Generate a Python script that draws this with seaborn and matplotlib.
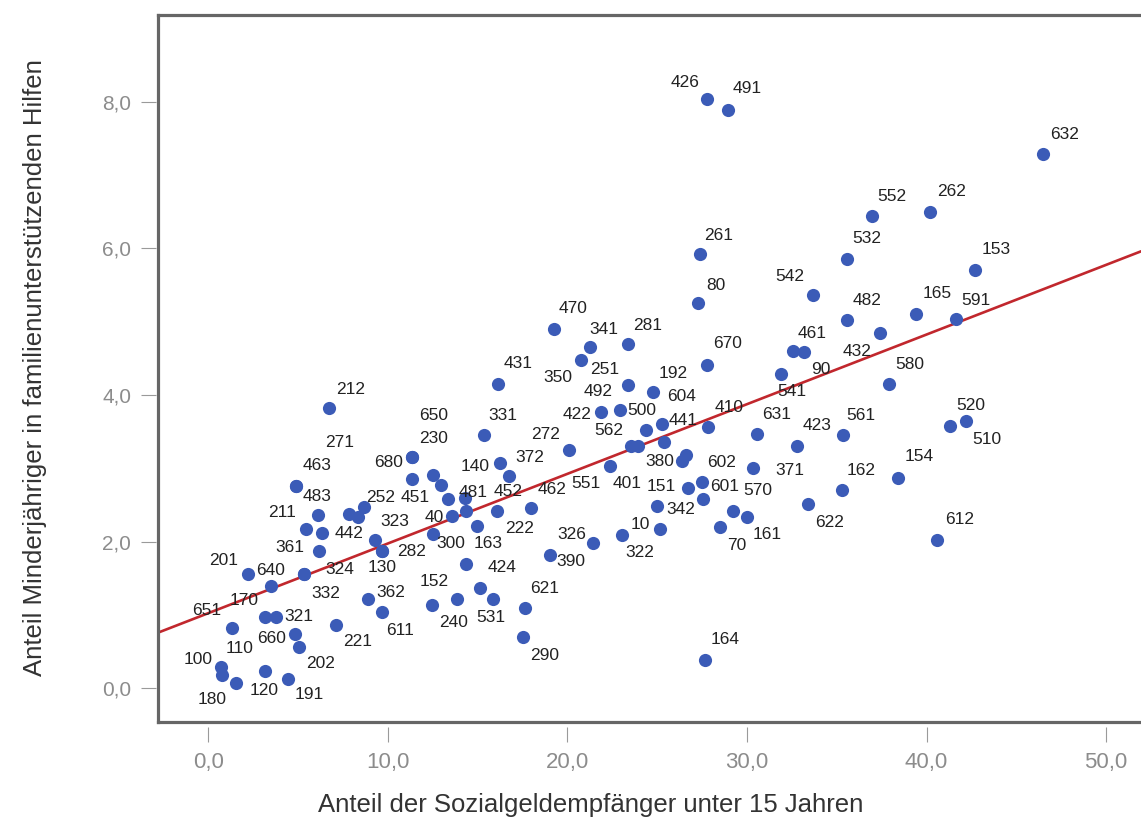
import matplotlib
matplotlib.use("Agg")
import matplotlib.pyplot as plt
from matplotlib.lines import Line2D
import numpy as np
import pandas as pd
import seaborn as sns

# District numbers (empty string = point drawn without a label)
district = [
    "426", "491", "632", "552", "262", "261", "532", "153", "80", "542",
    "482", "165", "591", "432", "461", "90", "541", "580", "281", "670",
    "192", "251", "470", "341", "350", "431", "422", "492", "500", "604",
    "562", "401", "441", "410", "631", "423", "561", "380", "", "371",
    "602", "601", "151", "342", "570", "161", "70", "10", "322", "622",
    "162", "164", "520", "510", "154", "612", "331", "272", "230", "650",
    "680", "140", "372", "452", "551", "451", "40", "481", "", "",
    "", "222", "462", "300", "163", "326", "390", "424", "152", "240",
    "531", "621", "290", "212", "463", "271", "483", "211", "442", "361",
    "", "252", "", "323", "282", "130", "324", "332", "362", "611",
    "221", "201", "640", "651", "170", "321", "660", "202", "100", "110",
    "180", "120", "191",
]

# Anteil der Sozialgeldempfaenger unter 15 Jahren (%)
sozialgeld = [
    27.79, 28.96, 46.50, 36.98, 40.19, 27.38, 35.58, 42.71, 27.29, 33.69,
    35.58, 39.41, 41.64, 37.41, 32.54, 33.17, 31.88, 37.91, 23.39, 27.79,
    24.78, 23.39, 19.25, 21.26, 20.76, 16.15, 21.87, 22.93, 24.38, 25.28,
    23.54, 23.93, 25.38, 27.85, 30.57, 32.77, 35.36, 26.36, 26.60, 30.35,
    27.48, 27.57, 26.70, 24.97, 29.20, 29.98, 28.50, 25.16, 23.02, 33.38,
    35.31, 27.66, 41.30, 42.19, 38.39, 40.60, 15.36, 20.11, 11.33, 11.33,
    11.33, 12.53, 16.25, 16.77, 22.37, 12.95, 13.37, 14.35, 14.30, 13.56,
    14.35, 16.06, 17.96, 12.53, 14.95, 19.03, 21.44, 15.13, 13.84, 12.44,
    15.87, 17.64, 17.54, 6.73, 4.91, 4.91, 6.11, 5.43, 6.34, 6.15,
    7.82, 8.34, 8.66, 9.27, 9.68, 9.68, 5.33, 5.33, 8.90, 9.66,
    7.13, 2.22, 3.51, 1.33, 3.18, 3.79, 4.82, 5.06, 0.73, 0.77,
    1.53, 3.15, 4.44,
]

# Anteil Minderjaehriger in familienunterstuetzenden Hilfen (%)
hilfen = [
    8.03, 7.89, 7.29, 6.44, 6.50, 5.92, 5.86, 5.70, 5.25, 5.37,
    5.02, 5.11, 5.03, 4.84, 4.60, 4.58, 4.28, 4.15, 4.69, 4.41,
    4.04, 4.14, 4.90, 4.65, 4.48, 4.15, 3.77, 3.79, 3.53, 3.61,
    3.31, 3.31, 3.36, 3.56, 3.47, 3.31, 3.45, 3.10, 3.18, 3.00,
    2.82, 2.58, 2.73, 2.49, 2.42, 2.34, 2.20, 2.18, 2.09, 2.51,
    2.70, 0.39, 3.58, 3.64, 2.87, 2.02, 3.45, 3.25, 3.15, 3.15,
    2.86, 2.91, 3.07, 2.89, 3.03, 2.78, 2.58, 2.42, 2.59, 2.35,
    1.69, 2.42, 2.46, 2.11, 2.22, 1.82, 1.98, 1.37, 1.22, 1.14,
    1.22, 1.10, 0.70, 3.82, 2.76, 2.76, 2.37, 2.18, 2.12, 1.88,
    2.38, 2.34, 2.47, 2.03, 1.88, 1.88, 1.56, 1.56, 1.22, 1.04,
    0.87, 1.56, 1.39, 0.83, 0.97, 0.98, 0.74, 0.57, 0.29, 0.18,
    0.08, 0.24, 0.13,
]

x_ticks = [0, 10, 20, 30, 40, 50]
x_tick_labels = ["0,0", "10,0", "20,0", "30,0", "40,0", "50,0"]
y_ticks = [0, 2, 4, 6, 8]
y_tick_labels = ["0,0", "2,0", "4,0", "6,0", "8,0"]

x_title = "Anteil der Sozialgeldempfänger unter 15 Jahren"
y_title = "Anteil Minderjähriger in familienunterstützenden Hilfen"

# Where each district label sits relative to its point (screen pixels, y up)
label_offset = {
    "426": (-22, 17), "491": (19, 21), "632": (21, 19), "552": (20, 20),
    "262": (22, 20), "261": (19, 19), "532": (20, 20), "153": (21, 21),
    "80": (18, 18), "542": (-23, 18), "482": (20, 20), "165": (21, 20),
    "591": (20, 19), "432": (-23, -18), "461": (20, 18), "90": (17, -17),
    "541": (11, -17), "580": (21, 20), "281": (19, 19), "670": (20, 21),
    "192": (20, 19), "251": (-24, 15), "470": (19, 20), "341": (14, 18),
    "350": (-23, -18), "431": (20, 21), "422": (-24, -3), "492": (-22, 19),
    "500": (-4, 19), "604": (19, 27), "562": (-22, 15), "401": (-11, -38),
    "441": (19, 21), "410": (21, 20), "631": (19, 19), "423": (20, 20),
    "561": (18, 20), "380": (-22, 0), "371": (37, -2), "602": (20, 19),
    "601": (21, 13), "151": (-26, 2), "342": (24, -4), "570": (25, 20),
    "161": (21, -18), "70": (17, -18), "10": (-20, 4), "322": (18, -17),
    "622": (22, -18), "162": (19, 20), "164": (20, 20), "520": (21, 20),
    "510": (21, -18), "154": (22, 21), "612": (22, 21), "331": (19, 20),
    "272": (-24, 16), "230": (22, 19), "650": (22, 42), "680": (-23, 16),
    "140": (42, 8), "372": (30, 6), "452": (-1, -15), "551": (-24, -17),
    "451": (-26, -13), "40": (-14, -18), "481": (7, 18), "222": (23, -18),
    "462": (21, 18), "300": (18, -10), "163": (11, -18), "326": (22, 20),
    "390": (-22, -18), "424": (22, 20), "152": (-23, 17), "240": (22, -18),
    "531": (-2, -19), "621": (20, 19), "290": (21, -18), "212": (22, 19),
    "463": (21, 20), "271": (43, 43), "483": (-1, 18), "211": (-24, 16),
    "442": (27, -1), "361": (-29, 3), "252": (23, 19), "323": (20, 18),
    "282": (30, -1), "130": (0, -17), "324": (36, 5), "332": (22, -19),
    "362": (23, 6), "611": (18, -18), "221": (21, -17), "201": (-24, 14),
    "640": (-1, 16), "651": (-25, 17), "170": (-21, 17), "321": (23, 0),
    "660": (-23, -4), "202": (22, -17), "100": (-23, 8), "110": (18, 27),
    "180": (-23, -17), "120": (-1, -20), "191": (21, -16),
}

df = pd.DataFrame({"bezirk": district, "x": sozialgeld, "y": hilfen})

sns.set_theme(style="white")
plt.rcParams["font.family"] = ["Liberation Sans", "DejaVu Sans"]

W, H = 1141, 821
fig = plt.figure(figsize=(W / 100, H / 100), dpi=100)
ax = fig.add_axes([158 / W, 1 - 722 / H, (W - 158) / W, (722 - 15) / H])

ax.set_xlim(-2.79, 51.94)
ax.set_ylim(-0.457, 9.18)

sns.scatterplot(data=df, x="x", y="y", ax=ax, color="#3b5bb7", s=90,
                linewidth=0, zorder=3, legend=False)
sns.regplot(data=df, x="x", y="y", ax=ax, scatter=False, ci=None,
            truncate=False, color="#c1272d", line_kws={"lw": 1.9, "zorder": 2})
ax.set_xlim(-2.79, 51.94)
ax.set_ylim(-0.457, 9.18)

for lab, xv, yv in zip(district, sozialgeld, hilfen):
    if not lab:
        continue
    dx, dy = label_offset[lab]
    ax.annotate(lab, (xv, yv), xytext=(dx, dy), textcoords="offset pixels",
                ha="center", va="center", fontsize=12.5, color="#222222",
                family=["Liberation Sans", "DejaVu Sans"], zorder=4)

# frame: left, top and bottom edges; ticks sit slightly below the frame
frame_kw = dict(color="#666666", lw=2.3, transform=ax.transAxes,
                clip_on=False, zorder=5, solid_capstyle="projecting")
ax.add_line(Line2D([0, 0], [0, 1], **frame_kw))
ax.add_line(Line2D([0, 1], [1, 1], **frame_kw))
ax.add_line(Line2D([0, 1], [0, 0], **frame_kw))
for side in ["left", "right", "top", "bottom"]:
    ax.spines[side].set_visible(False)
ax.spines["bottom"].set_position(("outward", 3.6))
ax.spines["left"].set_position(("outward", 1.5))

ax.set_xticks(x_ticks, x_tick_labels)
ax.set_yticks(y_ticks, y_tick_labels)
ax.tick_params(axis="x", direction="out", length=10.8, width=0.8,
               color="#9a9a9a", pad=7, labelsize=16, labelcolor="#8c8c8c",
               bottom=True)
ax.tick_params(axis="y", direction="out", length=10.8, width=0.8,
               color="#9a9a9a", pad=7, labelsize=15, labelcolor="#8c8c8c",
               left=True)

ax.set_xlabel(x_title, fontsize=18.5, color="#333333")
ax.set_ylabel(y_title, fontsize=18.5, color="#333333")
ax.xaxis.set_label_coords((591 - 158) / (W - 158), (722 - 793) / (722 - 15))
ax.yaxis.set_label_coords((47 - 158) / (W - 158), (722 - 368) / (722 - 15))

fig.savefig("out.png", dpi=100)
